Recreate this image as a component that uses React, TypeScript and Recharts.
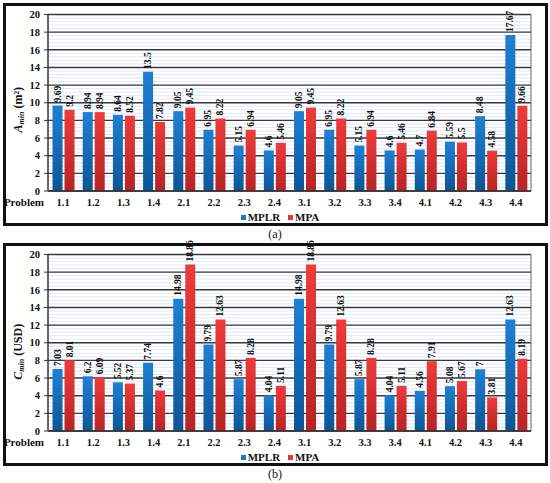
import React from 'react'
import {
  BarChart,
  Bar,
  XAxis,
  YAxis,
  CartesianGrid,
  Legend,
  LabelList,
} from 'recharts'

// Problem ids on the x axis
const problems = [
  '1.1', '1.2', '1.3', '1.4', '2.1', '2.2', '2.3', '2.4',
  '3.1', '3.2', '3.3', '3.4', '4.1', '4.2', '4.3', '4.4',
]

// (a) minimum area, m²
const areaMplr = [9.69, 8.94, 8.64, 13.5, 9.05, 6.95, 5.15, 4.6, 9.05, 6.95, 5.15, 4.6, 4.7, 5.59, 8.48, 17.67]
const areaMpa = [9.2, 8.94, 8.52, 7.82, 9.45, 8.22, 6.94, 5.46, 9.45, 8.22, 6.94, 5.46, 6.84, 5.5, 4.58, 9.66]

// (b) minimum cost, USD
const costMplr = [7.03, 6.2, 5.52, 7.74, 14.98, 9.79, 5.87, 4.04, 14.98, 9.79, 5.87, 4.04, 4.56, 5.08, 7, 12.63]
const costMpa = [8.01, 6.09, 5.37, 4.6, 18.86, 12.63, 8.28, 5.11, 18.86, 12.63, 8.28, 5.11, 7.91, 5.67, 3.81, 8.19]

const yTicks = [0, 2, 4, 6, 8, 10, 12, 14, 16, 18, 20]
const minorTicks = Array.from({ length: 51 }, (_, i) => i * 0.4)

const FONT = '"Liberation Serif", "DejaVu Serif", serif'

const areaData = problems.map((p, i) => ({ problem: p, mplr: areaMplr[i], mpa: areaMpa[i] }))
const costData = problems.map((p, i) => ({ problem: p, mplr: costMplr[i], mpa: costMpa[i] }))

const renderValue = (props: any) => {
  const { x, y, width, value } = props
  const cx = Number(x) + Number(width) / 2
  const cy = Number(y) - 3
  return (
    <text
      x={cx}
      y={cy}
      transform={`rotate(-90, ${cx}, ${cy})`}
      textAnchor="start"
      dominantBaseline="central"
      fontFamily={FONT}
      fontWeight="bold"
      fontSize={9.5}
      fill="#111"
    >
      {value}
    </text>
  )
}

const legendContent = () => (
  <div
    style={{
      display: 'flex',
      justifyContent: 'center',
      gap: 8,
      paddingLeft: 10,
      fontFamily: FONT,
      fontWeight: 'bold',
      fontSize: 11,
      color: '#111',
    }}
  >
    <span style={{ display: 'flex', alignItems: 'center' }}>
      <span style={{ width: 5, height: 5, background: '#1a74c6', marginRight: 2 }} />
      MPLR
    </span>
    <span style={{ display: 'flex', alignItems: 'center' }}>
      <span style={{ width: 5, height: 5, background: '#e23a3a', marginRight: 2 }} />
      MPA
    </span>
  </div>
)

function Panel({ data, title, unit, tag, shift }: any) {
  const yTitle = (props: any) => {
    const vb = props.viewBox
    const cx = 18
    const cy = vb.y + vb.height / 2 + shift
    return (
      <text
        x={cx}
        y={cy}
        transform={`rotate(-90, ${cx}, ${cy})`}
        textAnchor="middle"
        dominantBaseline="central"
        fontFamily={FONT}
        fontWeight="bold"
        fontSize={12}
        fill="#111"
      >
        <tspan fontStyle="italic">{title}</tspan>
        <tspan fontSize={8} dy={2.5} fontStyle="italic">min</tspan>
        <tspan dy={-2.5}> {unit}</tspan>
      </text>
    )
  }

  return (
    <div style={{ position: 'relative', width: 550, height: 240 }}>
      <div
        style={{
          position: 'absolute',
          left: 3,
          top: 3,
          width: 539,
          height: 217,
          border: '3px solid #111',
        }}
      />
      <div style={{ position: 'absolute', left: 0, top: 0 }}>
        <BarChart
          width={550}
          height={226}
          data={data}
          margin={{ top: 14.5, right: 18, left: 0, bottom: 13 }}
          barCategoryGap="15%"
          barGap={2}
        >
          <defs>
            <linearGradient id={`blue-${tag}`} x1="0" y1="0" x2="0" y2="1">
              <stop offset="0%" stopColor="#1f80d4" />
              <stop offset="100%" stopColor="#0d5594" />
            </linearGradient>
            <linearGradient id={`red-${tag}`} x1="0" y1="0" x2="0" y2="1">
              <stop offset="0%" stopColor="#ee3b3b" />
              <stop offset="100%" stopColor="#b62424" />
            </linearGradient>
          </defs>
          <CartesianGrid
            vertical={false}
            horizontalValues={minorTicks}
            stroke="#c6d9f1"
            strokeWidth={0.6}
            fill="#ffffff"
          />
          <CartesianGrid vertical={false} horizontalValues={yTicks} stroke="#3a3a3a" strokeWidth={1.4} />
          <XAxis
            dataKey="problem"
            height={22}
            tickLine={false}
            axisLine={{ stroke: '#333', strokeWidth: 1.5 }}
            tick={{ fontFamily: FONT, fontWeight: 'bold', fontSize: 10.5, fill: '#111' }}
            tickMargin={2}
            interval={0}
            label={{
              value: 'Problem',
              position: 'left',
              offset: 4,
              fontFamily: FONT,
              fontWeight: 'bold',
              fontSize: 11,
              fill: '#111',
            }}
          />
          <YAxis
            width={48}
            domain={[0, 20]}
            ticks={yTicks}
            interval={0}
            tickSize={4}
            tickMargin={4}
            tickLine={{ stroke: '#333' }}
            axisLine={{ stroke: '#333', strokeWidth: 1.5 }}
            tick={{ fontFamily: FONT, fontWeight: 'bold', fontSize: 10.5, fill: '#111' }}
            label={{ content: yTitle }}
          />
          <YAxis
            yAxisId="frame"
            orientation="right"
            width={1}
            domain={[0, 20]}
            tick={false}
            tickLine={false}
            axisLine={{ stroke: '#666', strokeWidth: 1 }}
          />
          <Legend
            layout="horizontal"
            verticalAlign="middle"
            align="center"
            wrapperStyle={{ top: 211, left: 0, width: 550 }}
            content={legendContent}
          />
          <Bar dataKey="mplr" name="MPLR" fill={`url(#blue-${tag})`} isAnimationActive={false}>
            <LabelList dataKey="mplr" content={renderValue} />
          </Bar>
          <Bar dataKey="mpa" name="MPA" fill={`url(#red-${tag})`} isAnimationActive={false}>
            <LabelList dataKey="mpa" content={renderValue} />
          </Bar>
        </BarChart>
      </div>
      <div
        style={{
          position: 'absolute',
          top: 227,
          left: 0,
          width: 550,
          textAlign: 'center',
          fontFamily: FONT,
          fontSize: 12,
          color: '#111',
        }}
      >
        ({tag})
      </div>
    </div>
  )
}

export default function App() {
  return (
    <div
      style={{
        position: 'absolute',
        left: 0,
        top: 0,
        width: 550,
        height: 483,
        background: '#fff',
        overflow: 'hidden',
      }}
    >
      <Panel data={areaData} title="A" unit="(m²)" tag="a" shift={7} />
      <Panel data={costData} title="C" unit="(USD)" tag="b" shift={9} />
    </div>
  )
}
